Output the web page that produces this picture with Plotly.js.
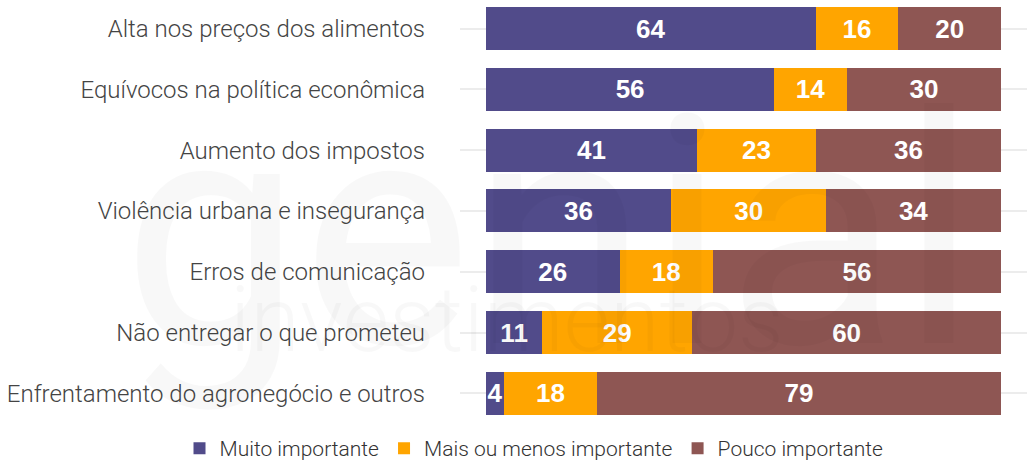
<!DOCTYPE html>
<html><head><meta charset="utf-8">
<script src="https://cdn.plot.ly/plotly-3.0.1.min.js"></script>
<style>html,body{margin:0;padding:0;background:#fff}#chart{width:1028px;height:461px}</style>
</head><body><div id="chart"></div>
<script>
const categories = [
  "Alta nos preços dos alimentos",
  "Equívocos na política econômica",
  "Aumento dos impostos",
  "Violência urbana e insegurança",
  "Erros de comunicação",
  "Não entregar o que prometeu",
  "Enfrentamento do agronegócio e outros"
];
const seriesNames = ["Muito importante", "Mais ou menos importante", "Pouco importante"];
const muito = [64, 56, 41, 36, 26, 11, 3.6];
const mais = [16, 14, 23, 30, 18, 29, 17.9];
const pouco = [20, 30, 36, 34, 56, 60, 78.5];
const colors = ["#514B8A", "#FFA500", "#8E5653"];

const values = [muito, mais, pouco];
const traces = values.map((v, i) => ({
  type: "bar", orientation: "h",
  y: categories, x: v, name: seriesNames[i],
  marker: {color: colors[i], line: {width: 0}},
  texttemplate: "%{x:.0f}", textposition: "inside", insidetextanchor: "middle",
  constraintext: "none",
  textfont: {family: "Liberation Sans", size: 26, color: "#ffffff", weight: "bold"},
  hoverinfo: "skip"
}));

const layout = {
  width: 1028, height: 461,
  margin: {l: 460, r: 1, t: 0, b: 37, autoexpand: false},
  barmode: "stack", bargap: 0.293,
  paper_bgcolor: "#ffffff", plot_bgcolor: "rgba(0,0,0,0)",
  font: {family: "Roboto", color: "#404040"},
  xaxis: {range: [-5, 105], showgrid: false, zeroline: false, showticklabels: false, fixedrange: true},
  yaxis: {range: [6.502, -0.4685], showgrid: true, gridcolor: "#ececec", gridwidth: 2,
          ticks: "", ticklabelstandoff: 34,
          tickfont: {family: "Roboto", size: 24, color: "#444444", weight: 300}},
  showlegend: true,
  legend: {orientation: "h", x: -0.4947, xanchor: "left", y: -0.058, yanchor: "middle",
           font: {family: "Roboto", size: 21, color: "#333333", weight: 300},
           itemwidth: 30, traceorder: "normal"},
  annotations: [
    {xref: "paper", yref: "paper", x: -0.6, y: 0.45, xanchor: "left", yanchor: "middle",
     text: "genial", showarrow: false,
     font: {family: "Roboto", size: 320, color: "rgba(0,0,0,0.028)", weight: 400}},
    {xref: "paper", yref: "paper", x: -0.41, y: 0.245, xanchor: "left", yanchor: "middle",
     text: "investimentos", showarrow: false,
     font: {family: "Roboto", size: 90, color: "rgba(0,0,0,0.028)", weight: 300}}
  ]
};
Plotly.newPlot("chart", traces, layout, {displayModeBar: false, staticPlot: true});
</script></body></html>
